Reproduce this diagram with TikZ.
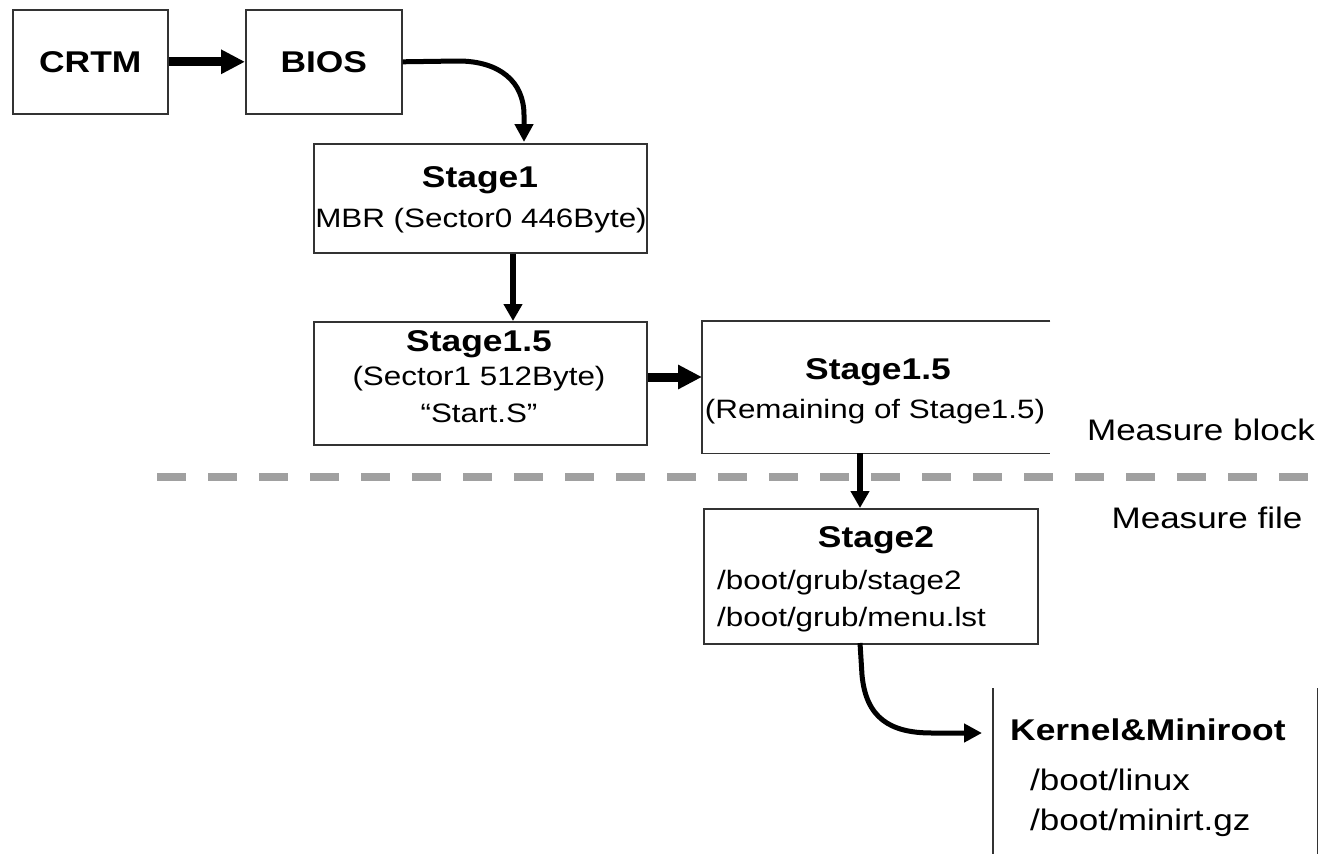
\documentclass[tikz,border=0pt]{standalone}
\usepackage{fontspec}
\setmainfont{Liberation Sans}[FakeStretch=1.18]
\usetikzlibrary{arrows.meta}
\definecolor{boxline}{gray}{0.2}
\definecolor{dashgray}{RGB}{160,160,160}
\newcommand{\regtext}{\fontsize{26.6}{32}\selectfont}
\newcommand{\bigtext}{\fontsize{29.7}{36}\selectfont}
\newcommand{\boldtext}{\fontsize{30}{36}\selectfont\bfseries}
\begin{document}
\begin{tikzpicture}[x=1pt,y=-1pt,
  box/.style={draw=boxline, line width=1.6pt, inner sep=0pt, anchor=north west},
  openbox/.style={inner sep=0pt, anchor=north west},
  lbl/.style={inner sep=0pt, text=black},
  fatarrow/.style={line width=9pt, -{Triangle[length=24pt,width=23pt]}},
  midarrow/.style={line width=5.5pt, -{Triangle[length=17pt,width=18pt]}},
  bendarrow/.style={line width=5pt, -{Triangle[length=18pt,width=18pt]}},
  sides/.style={draw=boxline, line width=1.6pt},
  divider/.style={draw=dashgray, line width=8pt, dash pattern=on 29pt off 22pt}]
\useasboundingbox (0,0) rectangle (1322,854);

% boxes
\node[box, minimum width=155pt, minimum height=104pt] (crtm) at (12,9) {};
\node[box, minimum width=156pt, minimum height=104pt] (bios) at (245,9) {};
\node[box, minimum width=333pt, minimum height=109pt] (s1) at (313,143) {};
\node[box, minimum width=333pt, minimum height=123pt] (s15) at (313,321) {};
\node[openbox, minimum width=348pt, minimum height=132pt] (s15b) at (702,321) {};
\node[box, minimum width=334pt, minimum height=135pt] (s2) at (703,508) {};
\node[openbox, minimum width=324pt, minimum height=166pt] (km) at (993,688) {};

% open-sided frames
\draw[sides] (s15b.north east) -- (s15b.north west) -- (s15b.south west) -- (s15b.south east);
\draw[sides] (km.north west) -- (km.south west);
\draw[sides] (km.north east) -- (km.south east);

% labels
\node[lbl, font=\boldtext] (tcrtm) at (crtm.center) {CRTM};
\node[lbl, font=\boldtext] (tbios) at (bios.center) {BIOS};
\node[lbl, font=\boldtext] (ts1) at (480,180) {Stage1};
\node[lbl, font=\regtext] (ts1a) at (481,221) {MBR (Sector0 446Byte)};
\node[lbl, font=\boldtext] (ts15) at (479,344) {Stage1.5};
\node[lbl, font=\regtext] (ts15a) at (479,379) {(Sector1 512Byte)};
\node[lbl, font=\regtext] (ts15b) at (479,413) {“Start.S”};
\node[lbl, font=\boldtext] (tr15) at (878,372) {Stage1.5};
\node[lbl, font=\regtext] (tr15a) at (875,412) {(Remaining of Stage1.5)};
\node[lbl, font=\bigtext] (mblock) at (1201,430) {Measure block};
\node[lbl, font=\bigtext] (mfile) at (1207,518) {Measure file};
\node[lbl, font=\boldtext] (ts2) at (876,540) {Stage2};
\node[lbl, font=\regtext, anchor=west] (ts2a) at (717,583) {/boot/grub/stage2};
\node[lbl, font=\regtext, anchor=west] (ts2b) at (717,620) {/boot/grub/menu.lst};
\node[lbl, font=\boldtext, anchor=west] (tkm) at (1010,730) {Kernel\&Miniroot};
\node[lbl, font=\bigtext, anchor=west] (tkma) at (1030,780) {/boot/linux};
\node[lbl, font=\bigtext, anchor=west] (tkmb) at (1030,823) {/boot/minirt.gz};

% boundary between block and file measurement
\coordinate (dashL) at (157,477);
\coordinate (dashR) at (1310,477);
\draw[divider] (dashL) -- (dashR);

% flow
\coordinate (s1in) at (524,142);
\coordinate (s2out) at (860,643);
\coordinate (kmin) at (982,733);
\draw[fatarrow] (crtm.east) -- (bios.east -| bios.west);
\draw[bendarrow] (bios.east) -- (458,61) .. controls (500,61) and (524,82) .. (524,115) -- (s1in);
\draw[midarrow] (s1.south -| 513,0) -- (s15.north -| 513,0);
\draw[fatarrow] (s15.east |- 0,377) -- (s15b.west |- 0,377);
\draw[midarrow] (s15b.south -| 860,0) -- (s2.north -| 860,0);
\draw[bendarrow] (s2out) -- (862,675) .. controls (866,718) and (890,733) .. (932,733) -- (kmin);
\end{tikzpicture}
\end{document}
